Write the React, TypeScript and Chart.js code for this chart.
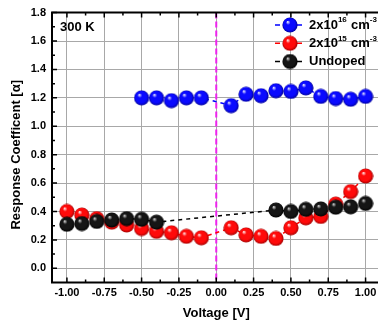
import React, { useEffect, useRef } from 'react';
import { Chart, registerables } from 'chart.js';

Chart.register(...registerables);

// ---- data ----
const xTickValues = [-1, -0.75, -0.5, -0.25, 0, 0.25, 0.5, 0.75, 1];
const yTickValues = [0, 0.2, 0.4, 0.6, 0.8, 1.0, 1.2, 1.4, 1.6, 1.8];

const seriesNames = ['2x10¹⁶ cm⁻³', '2x10¹⁵ cm⁻³', 'Undoped'];

const blueX = [-0.5, -0.4, -0.3, -0.2, -0.1, 0.1, 0.2, 0.3, 0.4, 0.5, 0.6, 0.7, 0.8, 0.9, 1.0];
const blueY = [1.20, 1.20, 1.18, 1.20, 1.20, 1.145, 1.225, 1.215, 1.25, 1.245, 1.27, 1.21, 1.195, 1.19, 1.21];

const redX = [-1.0, -0.9, -0.8, -0.7, -0.6, -0.5, -0.4, -0.3, -0.2, -0.1, 0.1, 0.2, 0.3, 0.4, 0.5, 0.6, 0.7, 0.8, 0.9, 1.0];
const redY = [0.40, 0.375, 0.35, 0.325, 0.305, 0.28, 0.26, 0.25, 0.225, 0.215, 0.285, 0.235, 0.225, 0.21, 0.285, 0.355, 0.365, 0.452, 0.54, 0.65];

const blackX = [-1.0, -0.9, -0.8, -0.7, -0.6, -0.5, -0.4, 0.4, 0.5, 0.6, 0.7, 0.8, 0.9, 1.0];
const blackY = [0.31, 0.315, 0.33, 0.34, 0.35, 0.345, 0.325, 0.41, 0.40, 0.415, 0.418, 0.43, 0.433, 0.457];

const temperatureLabel = '300 K';
const xTitle = 'Voltage [V]';
const yTitle = 'Response Coefficent [α]';

const FONT = "'Liberation Sans', Arial, sans-serif";

function makeBall(light: string, base: string, dark: string) {
  const s = 16;
  const c = document.createElement('canvas');
  c.width = s;
  c.height = s;
  const g = c.getContext('2d')!;
  const cx = 8, cy = 8, r = 7.6;
  const grad = g.createRadialGradient(cx - 2.4, cy - 3.2, 0.2, cx, cy, r);
  grad.addColorStop(0, light);
  grad.addColorStop(0.28, base);
  grad.addColorStop(0.75, base);
  grad.addColorStop(1, dark);
  g.fillStyle = grad;
  g.beginPath();
  g.arc(cx, cy, r, 0, Math.PI * 2);
  g.fill();
  return c;
}

export default function App() {
  const ref = useRef<HTMLCanvasElement | null>(null);

  useEffect(() => {
    const canvas = ref.current;
    if (!canvas) return;

    const balls = [
      makeBall('#f4f4ff', '#0a0aff', '#00009a'),
      makeBall('#fff4f4', '#ff0a0a', '#a00000'),
      makeBall('#dcdcdc', '#151515', '#000000'),
    ];
    const colors = ['#0000ff', '#ff0000', '#000000'];

    const toPts = (xs: number[], ys: number[]) => xs.map((x, i) => ({ x, y: ys[i] }));

    const overlay = {
      id: 'overlay',
      beforeDatasetsDraw(chart: any) {
        const { ctx, chartArea } = chart;
        const xs = chart.scales.x;
        const px = xs.getPixelForValue(0);
        ctx.save();
        ctx.strokeStyle = '#ee22ee';
        ctx.lineWidth = 2;
        ctx.setLineDash([6, 3]);
        ctx.beginPath();
        ctx.moveTo(px, chartArea.top);
        ctx.lineTo(px, chartArea.bottom);
        ctx.stroke();
        ctx.restore();
      },
      afterDraw(chart: any) {
        const { ctx, chartArea } = chart;
        const xs = chart.scales.x;
        const ys = chart.scales.y;
        const { left, right, top, bottom } = chartArea;
        ctx.save();
        // frame
        ctx.strokeStyle = '#000';
        ctx.lineWidth = 2;
        ctx.beginPath();
        ctx.moveTo(right + 2, top);
        ctx.lineTo(left, top);
        ctx.lineTo(left, bottom);
        ctx.lineTo(right + 2, bottom);
        ctx.stroke();
        // ticks
        ctx.lineWidth = 1.5;
        ctx.beginPath();
        for (let v = -1; v <= 1.0001; v += 0.125) {
          const p = xs.getPixelForValue(v);
          const major = Math.abs(v / 0.25 - Math.round(v / 0.25)) < 1e-6;
          const len = major ? 5 : 3;
          ctx.moveTo(p, bottom);
          ctx.lineTo(p, bottom - len);
          ctx.moveTo(p, top);
          ctx.lineTo(p, top + len);
        }
        for (let v = 0; v <= 1.8001; v += 0.1) {
          const p = ys.getPixelForValue(v);
          const major = Math.abs(v / 0.2 - Math.round(v / 0.2)) < 1e-6;
          const len = major ? 5 : 3;
          ctx.moveTo(left, p);
          ctx.lineTo(left + len, p);
        }
        ctx.stroke();
        // temperature label
        ctx.fillStyle = '#000';
        ctx.font = `bold 13px ${FONT}`;
        ctx.textBaseline = 'middle';
        ctx.textAlign = 'left';
        ctx.fillText(temperatureLabel, 60, 27);
        // legend
        const rows = [25, 43.3, 61.5];
        const parts = [
          ['2x10', '16', ' cm', '-3'],
          ['2x10', '15', ' cm', '-3'],
          ['Undoped'],
        ];
        rows.forEach((y, i) => {
          ctx.strokeStyle = colors[i];
          ctx.lineWidth = 1.5;
          ctx.setLineDash([]);
          ctx.beginPath();
          ctx.moveTo(275, y);
          ctx.lineTo(280, y);
          ctx.moveTo(297, y);
          ctx.lineTo(302, y);
          ctx.stroke();
          ctx.drawImage(balls[i], 290 - 8, y - 8);
          let x = 309;
          parts[i].forEach((t, k) => {
            const sup = k % 2 === 1;
            ctx.font = sup ? `bold 8px ${FONT}` : `bold 13px ${FONT}`;
            ctx.fillStyle = '#000';
            ctx.fillText(t, x, sup ? y - 5 : y);
            x += ctx.measureText(t).width + (sup ? 0.5 : 0);
          });
        });
        ctx.restore();
      },
    };

    const common = {
      showLine: true,
      borderWidth: 1.5,
      borderDash: [4, 4],
      pointRadius: 8,
      pointHoverRadius: 8,
    };

    const chart = new Chart(canvas, {
      type: 'scatter',
      data: {
        datasets: [
          { ...common, label: seriesNames[0], data: toPts(blueX, blueY), borderColor: colors[0], backgroundColor: colors[0], pointStyle: balls[0], order: 2 },
          { ...common, label: seriesNames[1], data: toPts(redX, redY), borderColor: colors[1], backgroundColor: colors[1], pointStyle: balls[1], order: 1 },
          { ...common, label: seriesNames[2], data: toPts(blackX, blackY), borderColor: colors[2], backgroundColor: colors[2], pointStyle: balls[2], order: 0 },
        ],
      },
      options: {
        responsive: false,
        animation: false,
        devicePixelRatio: 1,
        events: [],
        layout: { padding: { left: 0, top: 12.5, right: 6, bottom: 0 } },
        plugins: { legend: { display: false }, tooltip: { enabled: false } },
        scales: {
          x: {
            type: 'linear',
            min: -1.1,
            max: 1.1,
            afterBuildTicks: (s: any) => { s.ticks = xTickValues.map((v) => ({ value: v })); },
            afterFit: (s: any) => { s.height = 43.5; },
            grid: { color: '#a8a8a8', lineWidth: 1, drawTicks: false },
            border: { display: false },
            ticks: {
              padding: 4,
              color: '#000',
              font: { family: FONT, size: 11, weight: 'bold' },
              callback: (v: any) => Number(v).toFixed(2),
              maxRotation: 0,
              autoSkip: false,
            },
            title: {
              display: true,
              text: xTitle,
              color: '#000',
              font: { family: FONT, size: 13, weight: 'bold' },
              padding: { top: 0, bottom: 5 },
            },
          },
          y: {
            type: 'linear',
            min: -0.1,
            max: 1.8,
            afterBuildTicks: (s: any) => { s.ticks = yTickValues.map((v) => ({ value: v })); },
            afterFit: (s: any) => { s.width = 52; },
            grid: { color: '#a8a8a8', lineWidth: 1, drawTicks: false },
            border: { display: false },
            ticks: {
              padding: 6,
              color: '#000',
              font: { family: FONT, size: 11, weight: 'bold' },
              callback: (v: any) => Number(v).toFixed(1),
              autoSkip: false,
            },
            title: {
              display: true,
              text: yTitle + '    ',
              color: '#000',
              font: { family: FONT, size: 13, weight: 'bold' },
              padding: { top: 8.5, bottom: 0 },
            },
          },
        },
      },
      plugins: [overlay],
    } as any);

    return () => chart.destroy();
  }, []);

  return (
    <div style={{ position: 'fixed', left: 0, top: 0, width: 378, height: 326, overflow: 'hidden', background: '#fff' }}>
      <canvas ref={ref} width={390} height={326} style={{ display: 'block', width: 390, height: 326 }} />
    </div>
  );
}
